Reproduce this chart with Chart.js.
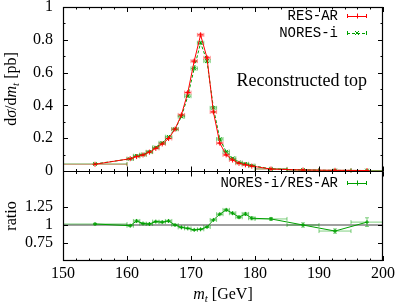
<!DOCTYPE html>
<html><head><meta charset="utf-8">
<script src="https://cdn.jsdelivr.net/npm/chart.js@4"></script>
<style>
html,body{margin:0;padding:0;background:#fff;}
canvas{display:block;}
</style></head><body>
<canvas id="c" width="399" height="304"></canvas>
<script>
// ---- data ----
const binLow  = [150,160,161,162,163,164,165,166,167,168,169,170,171,172,173,174,175,176,177,178,179,180,185,190,195];
const binHigh = [160,161,162,163,164,165,166,167,168,169,170,171,172,173,174,175,176,177,178,179,180,185,190,195,200];
const massCenters = [155,160.5,161.5,162.5,163.5,164.5,165.5,166.5,167.5,168.5,169.5,170.5,171.5,172.5,173.5,174.5,175.5,176.5,177.5,178.5,179.5,182.5,187.5,192.5,197.5];
const resAR   = [0.041,0.075,0.088,0.098,0.115,0.138,0.165,0.198,0.255,0.342,0.478,0.670,0.830,0.690,0.360,0.170,0.098,0.067,0.047,0.038,0.030,0.012,0.006,0.004,0.003];
const resARerr= [0.002,0.002,0.002,0.002,0.002,0.003,0.003,0.003,0.004,0.005,0.006,0.008,0.009,0.008,0.006,0.004,0.003,0.002,0.002,0.002,0.002,0.001,0.001,0.001,0.001];
const noresI  = [0.043,0.074,0.093,0.100,0.117,0.144,0.172,0.209,0.255,0.331,0.456,0.625,0.782,0.670,0.385,0.195,0.118,0.078,0.052,0.044,0.033,0.013,0.006,0.0037,0.0031];
const noresIerr=[0.002,0.002,0.002,0.002,0.002,0.003,0.003,0.003,0.004,0.005,0.006,0.008,0.009,0.008,0.006,0.004,0.003,0.002,0.002,0.002,0.002,0.001,0.001,0.001,0.001];
const ratio   = [1.014,0.990,1.056,1.020,1.014,1.047,1.040,1.056,1.000,0.967,0.953,0.932,0.940,0.972,1.070,1.150,1.210,1.164,1.108,1.154,1.094,1.084,1.000,0.916,1.040];
const ratioErr= [0.010,0.012,0.015,0.012,0.012,0.012,0.012,0.012,0.010,0.010,0.008,0.008,0.008,0.008,0.010,0.012,0.015,0.015,0.018,0.020,0.020,0.020,0.030,0.030,0.060];
const xTickValues = [150,160,170,180,190,200];
const yTopTicks = [0,0.2,0.4,0.6,0.8,1];
const ratioTicks = [0.75,1,1.25];
const labels = {res:'RES-AR', nores:'NORES-i', ratio:'NORES-i/RES-AR', note:'Reconstructed top', yTop:'ratio'};

const SERIF = '"Liberation Serif", "DejaVu Serif", serif';
const MONO = '"Liberation Mono", "DejaVu Sans Mono", monospace';
const RED = '#ff0000', GREEN = '#00a000';
const fmt = v => String(+(+v).toFixed(2));

const errorBars = {
  id:'errorBars',
  beforeDatasetsDraw(chart){
    const ctx = chart.ctx, xs = chart.scales.x;
    ctx.save();
    ctx.beginPath(); ctx.rect(chart.chartArea.left, chart.chartArea.top, chart.chartArea.width, chart.chartArea.height); ctx.clip();
    const yr = chart.scales.yr, a = chart.chartArea;
    const py1 = yr.getPixelForValue(1);
    ctx.strokeStyle = '#a0a0a0'; ctx.lineWidth = 2;
    ctx.beginPath(); ctx.moveTo(a.left, py1); ctx.lineTo(a.right, py1); ctx.stroke();
    chart.data.datasets.forEach(ds=>{
      if(!ds.errY) return;
      const ys = chart.scales[ds.yAxisID];
      ctx.strokeStyle = ds.errColor; ctx.lineWidth = 1; ctx.setLineDash([]);
      ctx.beginPath();
      ds.data.forEach((p,j)=>{
        const px = xs.getPixelForValue(p.x), py = ys.getPixelForValue(p.y);
        const x0 = xs.getPixelForValue(ds.xLo[j]), x1 = xs.getPixelForValue(ds.xHi[j]);
        const y0 = ys.getPixelForValue(p.y-ds.errY[j]), y1 = ys.getPixelForValue(p.y+ds.errY[j]);
        const c = 2;
        ctx.moveTo(x0,py); ctx.lineTo(x1,py);
        ctx.moveTo(x0,py-c); ctx.lineTo(x0,py+c);
        ctx.moveTo(x1,py-c); ctx.lineTo(x1,py+c);
        ctx.moveTo(px,y0); ctx.lineTo(px,y1);
        ctx.moveTo(px-c,y0); ctx.lineTo(px+c,y0);
        ctx.moveTo(px-c,y1); ctx.lineTo(px+c,y1);
      });
      ctx.stroke();
    });
    ctx.restore();
  }
};

function drawSegments(ctx, segs, cx, cy){
  let total = 0;
  segs.forEach(s=>{ ctx.font = s.font; s.w = ctx.measureText(s.t).width; total += s.w; });
  let x = cx - total/2;
  ctx.textBaseline = 'middle'; ctx.textAlign = 'left';
  segs.forEach(s=>{ ctx.font = s.font; ctx.fillText(s.t, x, cy + (s.dy||0)); x += s.w; });
}

const decor = {
  id:'decor',
  afterDraw(chart){
    const ctx = chart.ctx, a = chart.chartArea, xs = chart.scales.x, yt = chart.scales.y, yr = chart.scales.yr;
    const sep = Math.round(yt.bottom) + 0.5;
    ctx.save();
    ctx.strokeStyle = '#000'; ctx.lineWidth = 1; ctx.setLineDash([]);
    ctx.beginPath();
    for(let k=0;k<xs.ticks.length;k++){
      const v = xs.ticks[k].value;
      for(let m=0;m<5;m++){
        const vv = v + m*2; if(vv>xs.max) break;
        const px = Math.round(xs.getPixelForValue(vv))+0.5;
        const L = m===0?5:2.5;
        ctx.moveTo(px,a.top); ctx.lineTo(px,a.top+L);
        ctx.moveTo(px,sep); ctx.lineTo(px,sep-L);
        ctx.moveTo(px,sep); ctx.lineTo(px,sep+L);
        ctx.moveTo(px,a.bottom); ctx.lineTo(px,a.bottom-L);
      }
    }
    yt.ticks.forEach(t=>{
      for(let m=0;m<2;m++){
        const vv = t.value + m*0.1; if(vv>yt.max+1e-9) break;
        const py = Math.round(yt.getPixelForValue(vv))+0.5;
        const L = m===0?5:2.5;
        ctx.moveTo(a.left,py); ctx.lineTo(a.left+L,py);
        ctx.moveTo(a.right,py); ctx.lineTo(a.right-L,py);
      }
    });
    yr.ticks.forEach(t=>{
      const py = Math.round(yr.getPixelForValue(t.value))+0.5;
      ctx.moveTo(a.left,py); ctx.lineTo(a.left+5,py);
      ctx.moveTo(a.right,py); ctx.lineTo(a.right-5,py);
    });
    ctx.stroke();
    ctx.lineWidth = 1.2;
    ctx.strokeRect(a.left+0.5, a.top+0.5, a.width-1, a.height-1);
    ctx.beginPath(); ctx.moveTo(a.left, sep); ctx.lineTo(a.right, sep); ctx.stroke();

    ctx.fillStyle = '#000';
    const f = '16px ' + SERIF, fi = 'italic 16px ' + SERIF, fs = 'italic 11px ' + SERIF;
    ctx.save();
    ctx.translate(12, (a.top + yt.bottom)/2); ctx.rotate(-Math.PI/2);
    drawSegments(ctx, [{t:'d',font:f},{t:'σ',font:fi},{t:'/d',font:f},{t:'m',font:fi},{t:'t',font:fs,dy:4},{t:' [pb]',font:f}], 0, 0);
    ctx.restore();
    ctx.save();
    ctx.translate(12, (yr.top + yr.bottom)/2); ctx.rotate(-Math.PI/2);
    drawSegments(ctx, [{t:labels.yTop,font:f}], 0, 0);
    ctx.restore();
    drawSegments(ctx, [{t:'m',font:fi},{t:'t',font:fs,dy:4},{t:' [GeV]',font:f}], (a.left+a.right)/2, 295);

    ctx.font = '18px ' + SERIF; ctx.textAlign = 'right'; ctx.textBaseline = 'middle';
    ctx.fillText(labels.note, 367, 81);

    function legendEntry(text, y, color, dash, style){
      ctx.font = '14px ' + MONO; ctx.textAlign = 'right'; ctx.textBaseline = 'middle'; ctx.fillStyle = '#000';
      ctx.fillText(text, 338, y);
      const x0 = 347, x1 = 367, xm = 357;
      ctx.strokeStyle = color; ctx.lineWidth = 1;
      ctx.setLineDash(dash);
      ctx.beginPath(); ctx.moveTo(x0,y+0.5); ctx.lineTo(x1,y+0.5); ctx.stroke();
      ctx.setLineDash([]);
      ctx.beginPath();
      ctx.moveTo(x0+0.5,y-2); ctx.lineTo(x0+0.5,y+2);
      ctx.moveTo(x1-0.5,y-2); ctx.lineTo(x1-0.5,y+2);
      if(style==='cross'){ ctx.moveTo(xm-2.5,y+0.5); ctx.lineTo(xm+2.5,y+0.5); ctx.moveTo(xm+0.5,y-2.5); ctx.lineTo(xm+0.5,y+2.5); }
      else { ctx.moveTo(xm-2,y-2); ctx.lineTo(xm+2,y+2); ctx.moveTo(xm-2,y+2); ctx.lineTo(xm+2,y-2); }
      ctx.stroke();
    }
    legendEntry(labels.res, 16, RED, [], 'cross');
    legendEntry(labels.nores, 33, GREEN, [3,2], 'x');
    legendEntry(labels.ratio, yr.top + 12, GREEN, [], 'cross');
    ctx.restore();
  }
};

const pts = arr => massCenters.map((x,i)=>({x, y:arr[i]}));
const tickFont = {family:SERIF, size:16};

new Chart(document.getElementById('c'), {
  type:'scatter',
  data:{datasets:[
    {label:labels.res, data:pts(resAR), yAxisID:'y', showLine:true, borderColor:RED, borderWidth:1,
     pointStyle:'cross', pointRadius:2.5, pointBorderColor:RED, pointBorderWidth:1, backgroundColor:RED,
     xLo:binLow, xHi:binHigh, errY:resARerr, errColor:'rgba(255,60,60,0.6)'},
    {label:labels.nores, data:pts(noresI), yAxisID:'y', showLine:true, borderColor:GREEN, borderWidth:1, borderDash:[3,2],
     pointStyle:'crossRot', pointRadius:2.5, pointBorderColor:GREEN, pointBorderWidth:1, backgroundColor:GREEN,
     xLo:binLow, xHi:binHigh, errY:noresIerr, errColor:'rgba(0,160,0,0.5)'},
    {label:labels.ratio, data:pts(ratio), yAxisID:'yr', showLine:true, borderColor:GREEN, borderWidth:1,
     pointStyle:'cross', pointRadius:2, pointBorderColor:GREEN, pointBorderWidth:1, backgroundColor:GREEN,
     xLo:binLow, xHi:binHigh, errY:ratioErr, errColor:'rgba(0,160,0,0.5)'}
  ]},
  options:{
    responsive:false, animation:false, devicePixelRatio:1,
    layout:{padding:{top:7,right:16,left:0,bottom:0}},
    plugins:{legend:{display:false}, tooltip:{enabled:false}},
    elements:{line:{tension:0}},
    scales:{
      x:{type:'linear', min:150, max:200,
         afterBuildTicks(s){ s.ticks = xTickValues.map(v=>({value:v})); },
         ticks:{font:tickFont, color:'#000', padding:3, maxRotation:0, autoSkip:false, callback:fmt},
         grid:{display:false, drawTicks:false}, border:{display:false},
         afterFit(s){ s.height = 43; s.paddingLeft = 0; s.paddingRight = 0; }},
      yr:{type:'linear', position:'left', stack:'p', stackWeight:90, min:0.5, max:1.75,
          afterBuildTicks(s){ s.ticks = ratioTicks.map(v=>({value:v})); },
          ticks:{font:tickFont, color:'#000', padding:10, autoSkip:false, callback:fmt},
          grid:{display:false, drawTicks:false}, border:{display:false},
          afterFit(s){ s.width = 63; s.paddingTop = 0; s.paddingBottom = 0; }},
      y:{type:'linear', position:'left', stack:'p', stackWeight:164, min:0, max:1,
          afterBuildTicks(s){ s.ticks = yTopTicks.map(v=>({value:v})); },
          ticks:{font:tickFont, color:'#000', padding:10, autoSkip:false, callback:fmt},
          grid:{display:false, drawTicks:false}, border:{display:false},
          afterFit(s){ s.width = 63; s.paddingTop = 0; s.paddingBottom = 0; }}
    }
  },
  plugins:[errorBars, decor]
});
</script>
</body></html>
